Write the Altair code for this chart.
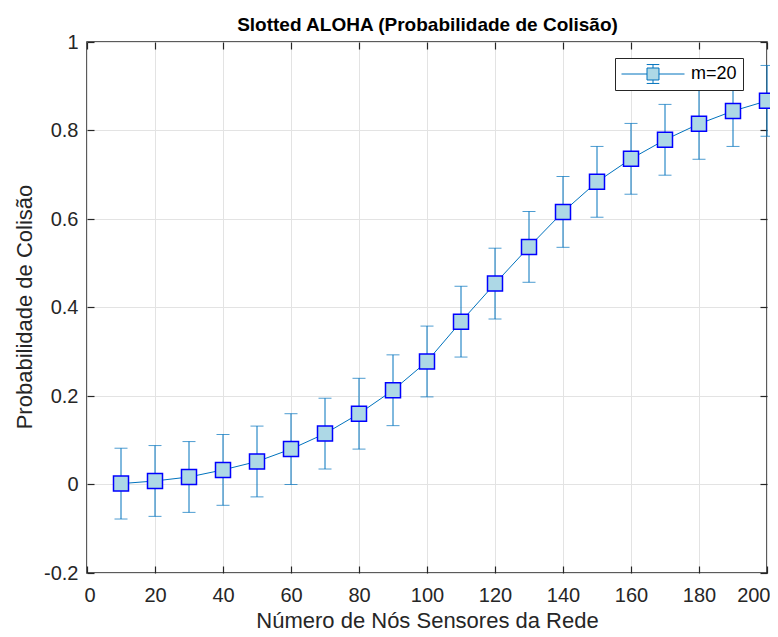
import altair as alt
import pandas as pd

# Data
nodes = [10, 20, 30, 40, 50, 60, 70, 80, 90, 100, 110, 120, 130, 140, 150, 160, 170, 180, 190, 200]
prob = [0.002, 0.008, 0.017, 0.033, 0.052, 0.080, 0.115, 0.160, 0.213, 0.278,
        0.368, 0.454, 0.537, 0.616, 0.684, 0.736, 0.779, 0.815, 0.844, 0.867]
err = [0.08] * 20
series = ["m=20"] * 20

df = pd.DataFrame({"x": nodes, "y": prob, "err": err, "serie": series})
df["lo"] = df["y"] - df["err"]
df["hi"] = df["y"] + df["err"]

x_ticks = [0, 20, 40, 60, 80, 100, 120, 140, 160, 180, 200]
y_ticks = [-0.2, 0, 0.2, 0.4, 0.6, 0.8, 1]

FONT = "Liberation Sans"
LINE = "#0072BD"
AXC = "#262626"

xs = alt.Scale(domain=[0, 200], nice=False, zero=False)
ys = alt.Scale(domain=[-0.2, 1], nice=False, zero=False)

ylabel_expr = "datum.value < 0 ? '-' + format(abs(datum.value), '') : format(datum.value, '')"

x_bottom = alt.Axis(values=x_ticks, orient="bottom", offset=-7, tickSize=7, tickColor=AXC,
                    tickWidth=1.2, domain=False, grid=True, gridColor="#e3e3e3", gridWidth=1,
                    labelFont=FONT, labelFontSize=20, labelColor=AXC, labelPadding=12,
                    labelFlush=True, labelFlushOffset=3,
                    format="d", title="Número de Nós Sensores da Rede", titleFont=FONT,
                    titleFontSize=22, titleFontWeight="normal", titleColor=AXC,
                    titleBaseline="alphabetic", titleY=61)
y_left = alt.Axis(values=y_ticks, orient="left", offset=-7, tickSize=7, tickColor=AXC,
                  tickWidth=1.2, domain=False, grid=True, gridColor="#e3e3e3", gridWidth=1,
                  labelFont=FONT, labelFontSize=20, labelColor=AXC, labelPadding=9,
                  labelExpr=ylabel_expr, title="Probabilidade de Colisão", titleFont=FONT,
                  titleFontSize=22, titleFontWeight="normal", titleColor=AXC,
                  titleAngle=-90, titleBaseline="alphabetic", titleAlign="center",
                  titleX=-63, titleY=264.5)
x_top = alt.Axis(values=x_ticks, orient="top", offset=-7, tickSize=7, tickColor=AXC,
                 tickWidth=1.2, domain=False, grid=False, labels=False,
                 title="Slotted ALOHA (Probabilidade de Colisão)", titleFont=FONT,
                 titleFontSize=19, titleFontWeight="bold", titleColor="#000000",
                 titleBaseline="alphabetic", titleAlign="center", titleX=340, titleY=-19)
y_right = alt.Axis(values=y_ticks, orient="right", offset=-7, tickSize=7, tickColor=AXC,
                   tickWidth=1.2, domain=False, grid=False, labels=False, title=None)

base = alt.Chart(df)

stems = base.mark_rule(color=LINE, strokeWidth=1).encode(
    x=alt.X("x:Q", scale=xs, axis=x_bottom),
    y=alt.Y("lo:Q", scale=ys, axis=y_left),
    y2="hi:Q",
)
caps_lo = base.mark_tick(color=LINE, orient="horizontal", size=13, thickness=1).encode(
    x=alt.X("x:Q", scale=xs, axis=x_top),
    y=alt.Y("lo:Q", scale=ys, axis=y_right),
)
caps_hi = base.mark_tick(color=LINE, orient="horizontal", size=13, thickness=1).encode(
    x=alt.X("x:Q", scale=xs, axis=None),
    y=alt.Y("hi:Q", scale=ys, axis=None),
)
line = base.mark_line(color=LINE, strokeWidth=1).encode(
    x=alt.X("x:Q", scale=xs, axis=None),
    y=alt.Y("y:Q", scale=ys, axis=None),
)
legend_symbol = ("M-1,0H-0.19M0.19,0H1M-0.19,-0.19H0.19V0.19H-0.19Z"
                 "M0,-0.19V-0.3M-0.2,-0.3H0.2M0,0.19V0.3M-0.2,0.3H0.2")
points = base.mark_square(size=225, stroke="#0000FF", strokeWidth=1.5, opacity=1).encode(
    x=alt.X("x:Q", scale=xs, axis=None),
    y=alt.Y("y:Q", scale=ys, axis=None),
    fill=alt.Fill("serie:N", scale=alt.Scale(range=["#ADD8E6"]),
                  legend=alt.Legend(title=None, orient="none", legendX=528, legendY=16,
                                    symbolType=legend_symbol, symbolSize=3969,
                                    symbolStrokeColor=LINE, symbolStrokeWidth=1,
                                    symbolOpacity=1,
                                    labelFont=FONT, labelFontSize=18, labelColor="#000000",
                                    labelOffset=6, padding=6, clipHeight=20,
                                    strokeColor=AXC, fillColor="white", cornerRadius=0)),
)

chart = alt.layer(stems, caps_lo, caps_hi, line, points).resolve_axis(
    x="independent", y="independent"
).properties(
    width=680,
    height=531,
    autosize=alt.AutoSizeParams(type="none"),
    padding={"left": 79, "top": 34, "right": 3, "bottom": 56},
).configure_view(stroke=AXC, strokeWidth=1.5)

chart.save("out.html", embed_options={"renderer": "svg", "actions": False})
